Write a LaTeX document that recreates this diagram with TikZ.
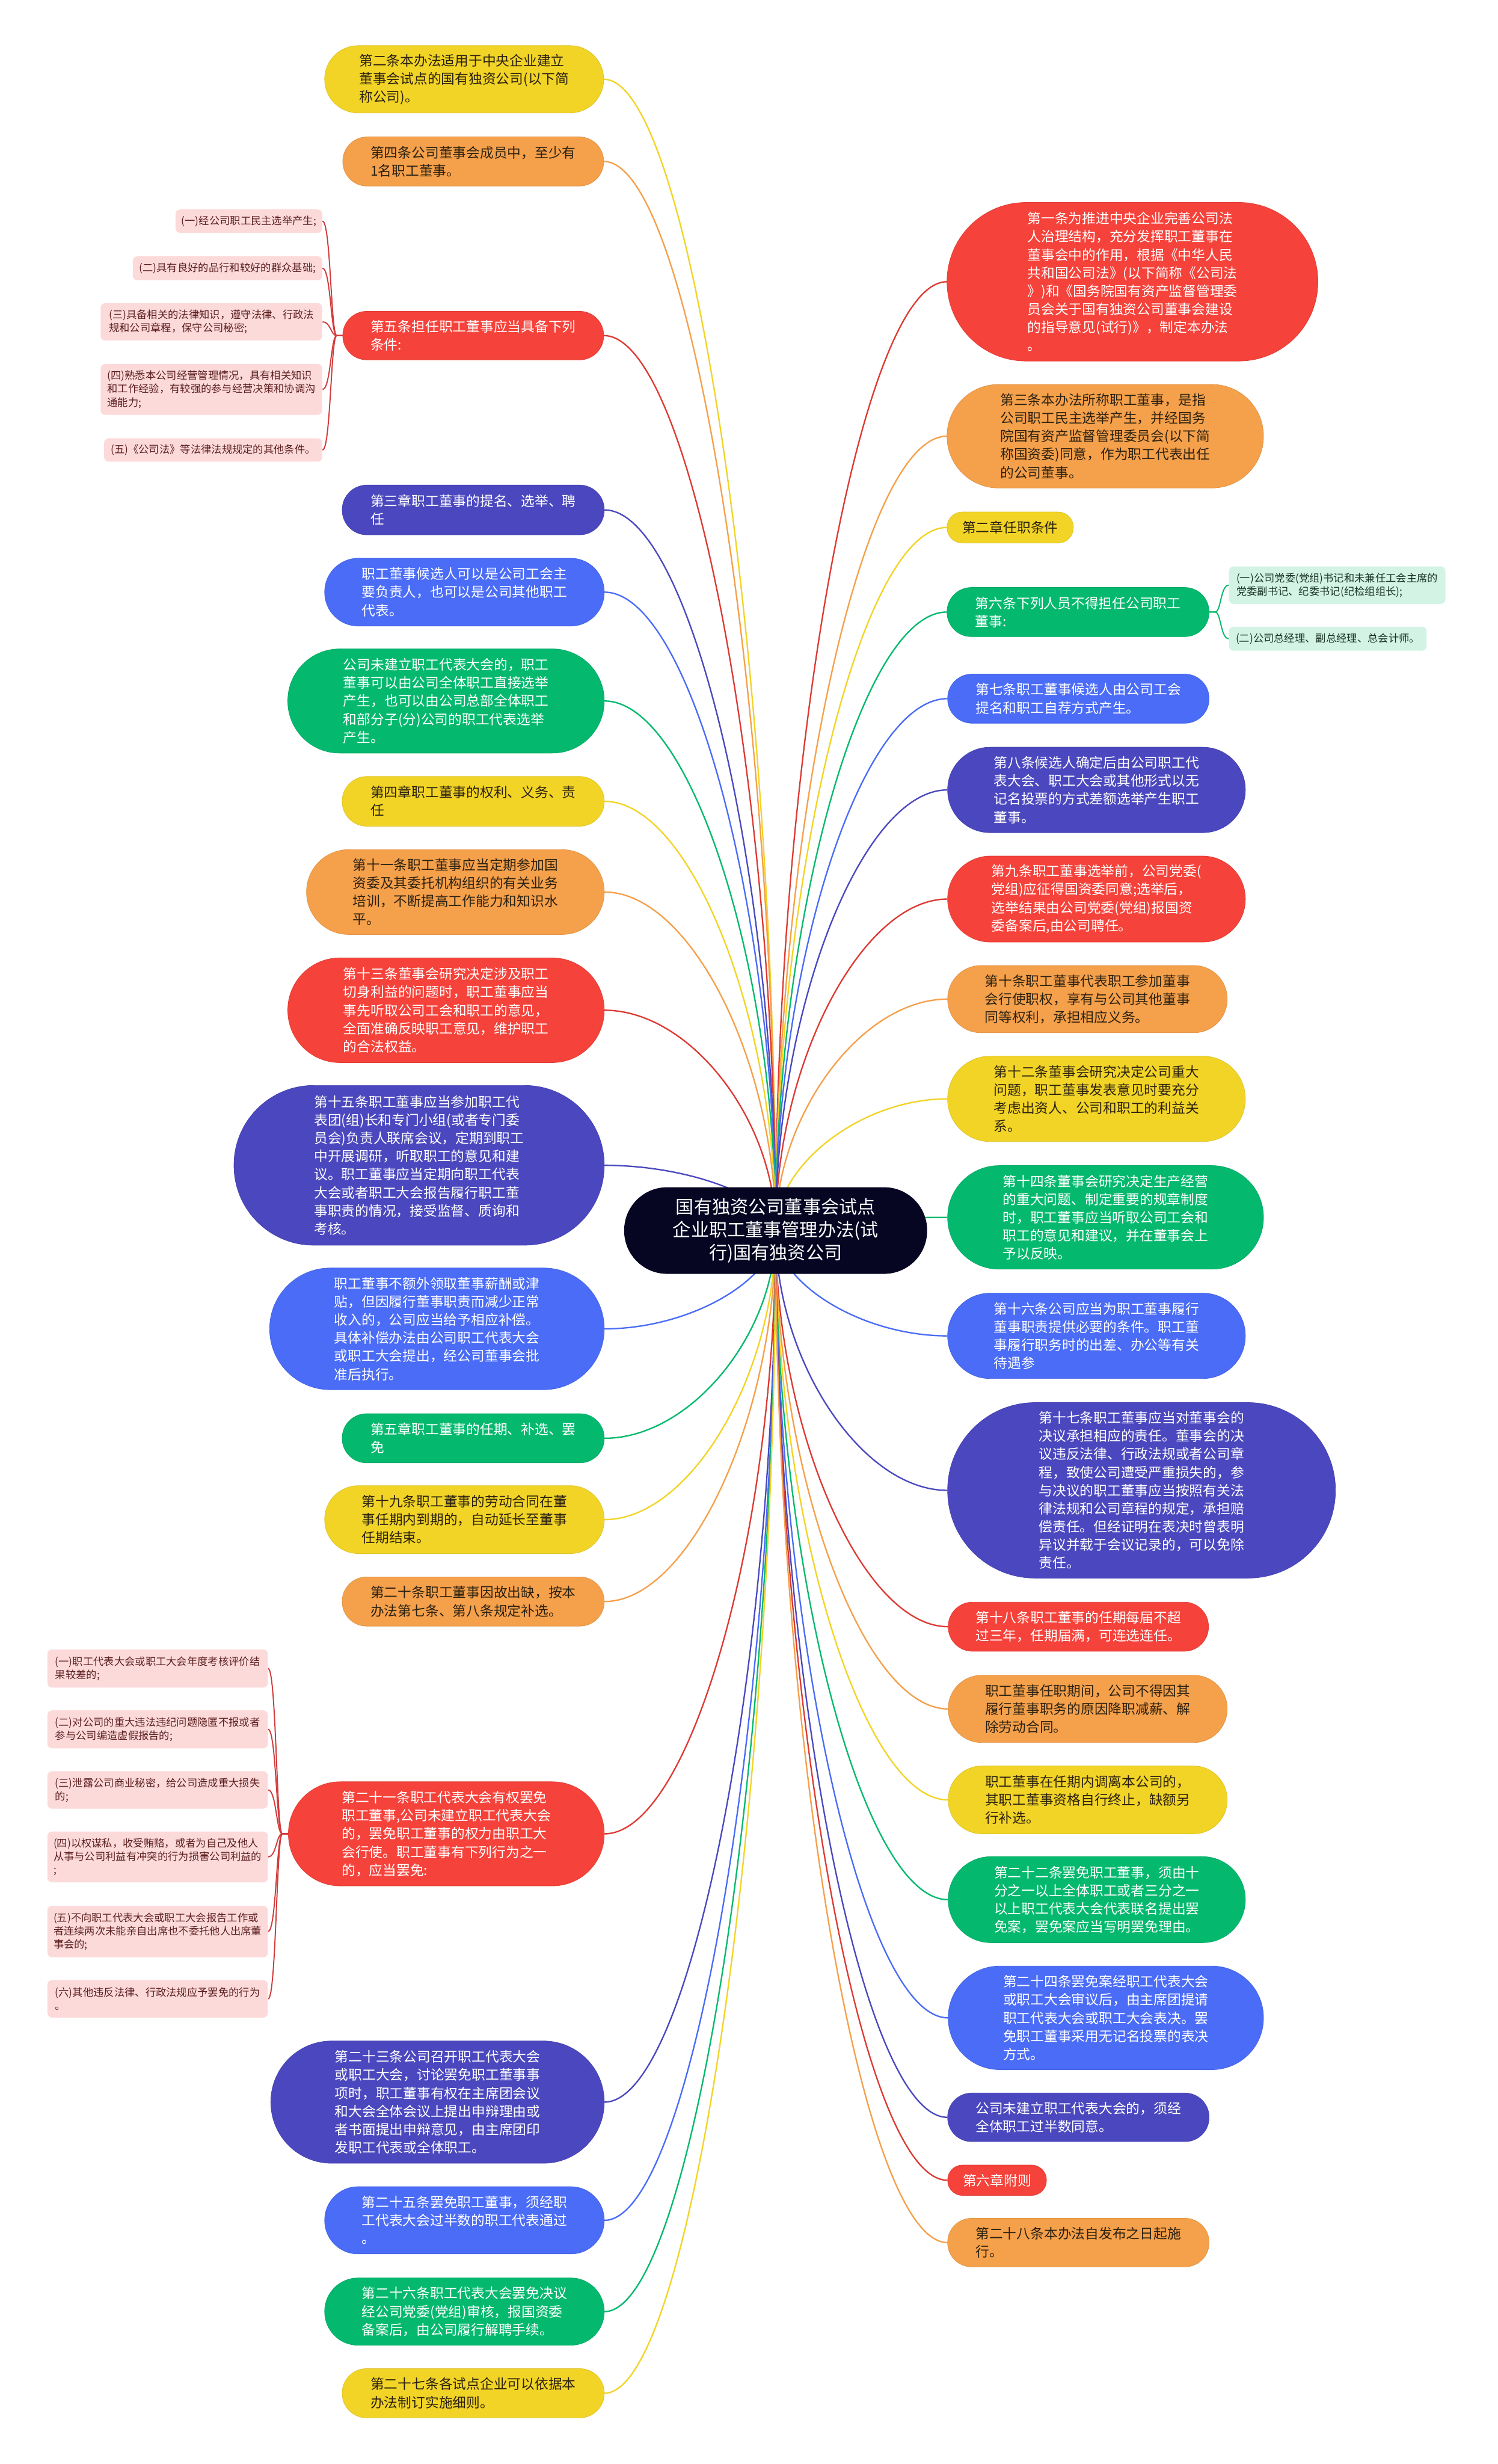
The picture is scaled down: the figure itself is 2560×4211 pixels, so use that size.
\documentclass[tikz,border=0pt]{standalone}
\usepackage{fontspec}
\setmainfont{Noto Sans CJK SC}
\usetikzlibrary{calc}
\pgfdeclarelayer{bg}
\pgfsetlayers{bg,main}
\definecolor{cyel}{HTML}{F2D427}
\definecolor{corg}{HTML}{F5A04B}
\definecolor{cred}{HTML}{F5423A}
\definecolor{cind}{HTML}{4B48BF}
\definecolor{cblu}{HTML}{4A6CF6}
\definecolor{cgrn}{HTML}{04B96E}
\definecolor{croot}{HTML}{060623}
\definecolor{cpink}{HTML}{FDDADA}
\definecolor{cmint}{HTML}{D3F4E5}
\definecolor{cdark}{HTML}{2B2110}
\definecolor{cpinktxt}{HTML}{5C1F1F}
\definecolor{cminttxt}{HTML}{1B3326}
\definecolor{cbrk}{HTML}{D23C3C}
\newcommand\mainfs{\fontsize{11.7}{15.5}\selectfont}
\newcommand\rootfs{\fontsize{15.5}{19.5}\selectfont}
\newcommand\smallfs{\fontsize{8.9}{11.5}\selectfont}
\tikzset{
  pill/.style={inner sep=0pt, align=left, font=\mainfs, line width=0.4pt},
  yelbox/.style={pill, fill=cyel, draw=cyel!92!black, text=cdark},
  orgbox/.style={pill, fill=corg, draw=corg!92!black, text=cdark},
  redbox/.style={pill, fill=cred, draw=cred!92!black, text=white},
  indbox/.style={pill, fill=cind, draw=cind!92!black, text=white},
  blubox/.style={pill, fill=cblu, draw=cblu!92!black, text=white},
  grnbox/.style={pill, fill=cgrn, draw=cgrn!92!black, text=white},
  rootbox/.style={inner sep=0pt, align=center, font=\rootfs, fill=croot, text=white},
  pinkbox/.style={inner sep=0pt, align=left, font=\smallfs, fill=cpink, text=cpinktxt, rounded corners=4pt},
  mintbox/.style={inner sep=0pt, align=left, font=\smallfs, fill=cmint, text=cminttxt, rounded corners=4pt},
  yelline/.style={draw=cyel, line width=1.2pt},
  orgline/.style={draw=corg, line width=1.2pt},
  redline/.style={draw=cred!90!black, line width=1.2pt},
  indline/.style={draw=cind, line width=1.2pt},
  bluline/.style={draw=cblu, line width=1.2pt},
  grnline/.style={draw=cgrn, line width=1.2pt},
  brkred/.style={draw=cbrk, line width=1pt},
  brkgrn/.style={draw=cgrn, line width=1pt},
}
% pill node: name, x1, y1, x2, y2, style, text (pixel coordinates)
\newcommand\bx[7]{\node[#6, minimum width={(#4-#2)*0.5pt}, minimum height={(#5-#3)*0.5pt}, rounded corners={(#5-#3)*0.25pt-0.2pt}] (#1) at ({(#2+#4)/2},{(#3+#5)/2}) {#7};}
% small box node
\newcommand\sbx[7]{\node[#6, minimum width={(#4-#2)*0.5pt}, minimum height={(#5-#3)*0.5pt}] (#1) at ({(#2+#4)/2},{(#3+#5)/2}) {#7};}
% connector from root
\newcommand\conn[2]{\coordinate (mm) at ($(root.center)!0.5!(#1)$);
  \draw[#2] (root.center) .. controls (root.center |- mm) and (mm |- #1) .. (#1);}
% bracket connectors
\newcommand\lbr[3]{\draw[#3] (#1.west) -- ++(-10,0) .. controls +(-10,0) and ($(#2.east)+(14,0)$) .. (#2.east);}
\newcommand\rbr[3]{\draw[#3] (#1.east) -- ++(10,0) .. controls +(10,0) and ($(#2.west)+(-14,0)$) .. (#2.west);}
\begin{document}
\begin{tikzpicture}[x=0.5pt, y=-0.5pt]
\useasboundingbox (0,0) rectangle (2560,4211);
% root
\bx{root}{1067}{2029}{1585}{2177}{rootbox}{国有独资公司董事会试点\\企业职工董事管理办法(试\\行)国有独资公司}
% left column
\bx{n2}{555}{78}{1032}{193}{yelbox}{第二条本办法适用于中央企业建立\\董事会试点的国有独资公司(以下简\\称公司)。}
\bx{n4}{586}{234}{1032}{318}{orgbox}{第四条公司董事会成员中，至少有\\1名职工董事。}
\bx{n5}{586}{532}{1032}{615}{redbox}{第五条担任职工董事应当具备下列\\条件:}
\sbx{s51}{300}{358}{551}{398}{pinkbox}{(一)经公司职工民主选举产生;}
\sbx{s52}{227}{438}{551}{479}{pinkbox}{(二)具有良好的品行和较好的群众基础;}
\sbx{s53}{172}{518}{551}{582}{pinkbox}{(三)具备相关的法律知识，遵守法律、行政法\\规和公司章程，保守公司秘密;}
\sbx{s54}{172}{622}{551}{709}{pinkbox}{(四)熟悉本公司经营管理情况，具有相关知识\\和工作经验，有较强的参与经营决策和协调沟\\通能力;}
\sbx{s55}{178}{749}{551}{789}{pinkbox}{(五)《公司法》等法律法规规定的其他条件。}
\bx{n3c}{585}{829}{1033}{914}{indbox}{第三章职工董事的提名、选举、聘\\任}
\bx{n6}{555}{954}{1033}{1070}{blubox}{职工董事候选人可以是公司工会主\\要负责人，也可以是公司其他职工\\代表。}
\bx{n7}{492}{1109}{1033}{1287}{grnbox}{公司未建立职工代表大会的，职工\\董事可以由公司全体职工直接选举\\产生，也可以由公司总部全体职工\\和部分子(分)公司的职工代表选举\\产生。}
\bx{n8}{585}{1327}{1033}{1412}{yelbox}{第四章职工董事的权利、义务、责\\任}
\bx{n11}{524}{1452}{1033}{1597}{orgbox}{第十一条职工董事应当定期参加国\\资委及其委托机构组织的有关业务\\培训，不断提高工作能力和知识水\\平。}
\bx{n13}{492}{1637}{1033}{1816}{redbox}{第十三条董事会研究决定涉及职工\\切身利益的问题时，职工董事应当\\事先听取公司工会和职工的意见，\\全面准确反映职工意见，维护职工\\的合法权益。}
\bx{n15}{400}{1855}{1033}{2128}{indbox}{第十五条职工董事应当参加职工代\\表团(组)长和专门小组(或者专门委\\员会)负责人联席会议，定期到职工\\中开展调研，听取职工的意见和建\\议。职工董事应当定期向职工代表\\大会或者职工大会报告履行职工董\\事职责的情况，接受监督、质询和\\考核。}
\bx{nbe}{461}{2167}{1033}{2375}{blubox}{职工董事不额外领取董事薪酬或津\\贴，但因履行董事职责而减少正常\\收入的，公司应当给予相应补偿。\\具体补偿办法由公司职工代表大会\\或职工大会提出，经公司董事会批\\准后执行。}
\bx{n5c}{585}{2416}{1033}{2500}{grnbox}{第五章职工董事的任期、补选、罢\\免}
\bx{n19}{555}{2539}{1033}{2655}{yelbox}{第十九条职工董事的劳动合同在董\\事任期内到期的，自动延长至董事\\任期结束。}
\bx{n20}{585}{2695}{1033}{2779}{orgbox}{第二十条职工董事因故出缺，按本\\办法第七条、第八条规定补选。}
\bx{n21}{493}{3045}{1033}{3223}{redbox}{第二十一条职工代表大会有权罢免\\职工董事,公司未建立职工代表大会\\的，罢免职工董事的权力由职工大\\会行使。职工董事有下列行为之一\\的，应当罢免:}
\sbx{s211}{81}{2819}{458}{2884}{pinkbox}{(一)职工代表大会或职工大会年度考核评价结\\果较差的;}
\sbx{s212}{81}{2923}{458}{2988}{pinkbox}{(二)对公司的重大违法违纪问题隐匿不报或者\\参与公司编造虚假报告的;}
\sbx{s213}{81}{3027}{458}{3091}{pinkbox}{(三)泄露公司商业秘密，给公司造成重大损失\\的;}
\sbx{s214}{81}{3130}{458}{3217}{pinkbox}{(四)以权谋私，收受贿赂，或者为自己及他人\\从事与公司利益有冲突的行为损害公司利益的\\;}
\sbx{s215}{81}{3257}{458}{3345}{pinkbox}{(五)不向职工代表大会或职工大会报告工作或\\者连续两次未能亲自出席也不委托他人出席董\\事会的;}
\sbx{s216}{81}{3384}{458}{3448}{pinkbox}{(六)其他违反法律、行政法规应予罢免的行为\\。}
\bx{n23}{463}{3488}{1033}{3697}{indbox}{第二十三条公司召开职工代表大会\\或职工大会，讨论罢免职工董事事\\项时，职工董事有权在主席团会议\\和大会全体会议上提出申辩理由或\\者书面提出申辩意见，由主席团印\\发职工代表或全体职工。}
\bx{n25}{555}{3737}{1033}{3852}{blubox}{第二十五条罢免职工董事，须经职\\工代表大会过半数的职工代表通过\\。}
\bx{n26}{555}{3893}{1033}{4008}{grnbox}{第二十六条职工代表大会罢免决议\\经公司党委(党组)审核，报国资委\\备案后，由公司履行解聘手续。}
\bx{n27}{585}{4048}{1033}{4132}{yelbox}{第二十七条各试点企业可以依据本\\办法制订实施细则。}
% right column
\bx{r1}{1619}{346}{2253}{617}{redbox}{第一条为推进中央企业完善公司法\\人治理结构，充分发挥职工董事在\\董事会中的作用，根据《中华人民\\共和国公司法》(以下简称《公司法\\》)和《国务院国有资产监督管理委\\员会关于国有独资公司董事会建设\\的指导意见(试行)》，制定本办法\\。}
\bx{r3}{1619}{657}{2160}{834}{orgbox}{第三条本办法所称职工董事，是指\\公司职工民主选举产生，并经国务\\院国有资产监督管理委员会(以下简\\称国资委)同意，作为职工代表出任\\的公司董事。}
\bx{r2c}{1619}{875}{1835}{928}{yelbox}{第二章任职条件}
\bx{r6}{1619}{1004}{2067}{1088}{grnbox}{第六条下列人员不得担任公司职工\\董事:}
\sbx{s61}{2101}{968}{2471}{1032}{mintbox}{(一)公司党委(党组)书记和未兼任工会主席的\\党委副书记、纪委书记(纪检组组长);}
\sbx{s62}{2101}{1071}{2439}{1112}{mintbox}{(二)公司总经理、副总经理、总会计师。}
\bx{r7}{1620}{1152}{2067}{1236}{blubox}{第七条职工董事候选人由公司工会\\提名和职工自荐方式产生。}
\bx{r8}{1620}{1277}{2129}{1423}{indbox}{第八条候选人确定后由公司职工代\\表大会、职工大会或其他形式以无\\记名投票的方式差额选举产生职工\\董事。}
\bx{r9}{1620}{1463}{2129}{1610}{redbox}{第九条职工董事选举前，公司党委(\\党组)应征得国资委同意;选举后，\\选举结果由公司党委(党组)报国资\\委备案后,由公司聘任。}
\bx{r10}{1620}{1650}{2098}{1765}{orgbox}{第十条职工董事代表职工参加董事\\会行使职权，享有与公司其他董事\\同等权利，承担相应义务。}
\bx{r12}{1620}{1805}{2129}{1951}{yelbox}{第十二条董事会研究决定公司重大\\问题，职工董事发表意见时要充分\\考虑出资人、公司和职工的利益关\\系。}
\bx{r14}{1620}{1992}{2160}{2169}{grnbox}{第十四条董事会研究决定生产经营\\的重大问题、制定重要的规章制度\\时，职工董事应当听取公司工会和\\职工的意见和建议，并在董事会上\\予以反映。}
\bx{r16}{1620}{2210}{2129}{2356}{blubox}{第十六条公司应当为职工董事履行\\董事职责提供必要的条件。职工董\\事履行职务时的出差、办公等有关\\待遇参}
\bx{r17}{1620}{2397}{2283}{2697}{indbox}{第十七条职工董事应当对董事会的\\决议承担相应的责任。董事会的决\\议违反法律、行政法规或者公司章\\程，致使公司遭受严重损失的，参\\与决议的职工董事应当按照有关法\\律法规和公司章程的规定，承担赔\\偿责任。但经证明在表决时曾表明\\异议并载于会议记录的，可以免除\\责任。}
\bx{r18}{1621}{2738}{2066}{2822}{redbox}{第十八条职工董事的任期每届不超\\过三年，任期届满，可连选连任。}
\bx{r19}{1621}{2863}{2098}{2978}{orgbox}{职工董事任职期间，公司不得因其\\履行董事职务的原因降职减薪、解\\除劳动合同。}
\bx{r20}{1621}{3018}{2098}{3134}{yelbox}{职工董事在任期内调离本公司的，\\其职工董事资格自行终止，缺额另\\行补选。}
\bx{r22}{1621}{3173}{2129}{3320}{grnbox}{第二十二条罢免职工董事，须由十\\分之一以上全体职工或者三分之一\\以上职工代表大会代表联名提出罢\\免案，罢免案应当写明罢免理由。}
\bx{r24}{1621}{3360}{2160}{3537}{blubox}{第二十四条罢免案经职工代表大会\\或职工大会审议后，由主席团提请\\职工代表大会或职工大会表决。罢\\免职工董事采用无记名投票的表决\\方式。}
\bx{r25}{1620}{3577}{2067}{3660}{indbox}{公司未建立职工代表大会的，须经\\全体职工过半数同意。}
\bx{r6c}{1620}{3700}{1789}{3752}{redbox}{第六章附则}
\bx{r28}{1620}{3791}{2067}{3874}{orgbox}{第二十八条本办法自发布之日起施\\行。}
% connectors
\begin{pgfonlayer}{bg}
\fill[white] (0,0) rectangle (2560,4211);
\conn{n2.east}{yelline}
\conn{n4.east}{orgline}
\conn{n5.east}{redline}
\conn{n3c.east}{indline}
\conn{n6.east}{bluline}
\conn{n7.east}{grnline}
\conn{n8.east}{yelline}
\conn{n11.east}{orgline}
\conn{n13.east}{redline}
\conn{n15.east}{indline}
\conn{nbe.east}{bluline}
\conn{n5c.east}{grnline}
\conn{n19.east}{yelline}
\conn{n20.east}{orgline}
\conn{n21.east}{redline}
\conn{n23.east}{indline}
\conn{n25.east}{bluline}
\conn{n26.east}{grnline}
\conn{n27.east}{yelline}
\conn{r1.west}{redline}
\conn{r3.west}{orgline}
\conn{r2c.west}{yelline}
\conn{r6.west}{grnline}
\conn{r7.west}{bluline}
\conn{r8.west}{indline}
\conn{r9.west}{redline}
\conn{r10.west}{orgline}
\conn{r12.west}{yelline}
\conn{r14.west}{grnline}
\conn{r16.west}{bluline}
\conn{r17.west}{indline}
\conn{r18.west}{redline}
\conn{r19.west}{orgline}
\conn{r20.west}{yelline}
\conn{r22.west}{grnline}
\conn{r24.west}{bluline}
\conn{r25.west}{indline}
\conn{r6c.west}{redline}
\conn{r28.west}{orgline}
\lbr{n5}{s51}{brkred}
\lbr{n5}{s52}{brkred}
\lbr{n5}{s53}{brkred}
\lbr{n5}{s54}{brkred}
\lbr{n5}{s55}{brkred}
\lbr{n21}{s211}{brkred}
\lbr{n21}{s212}{brkred}
\lbr{n21}{s213}{brkred}
\lbr{n21}{s214}{brkred}
\lbr{n21}{s215}{brkred}
\lbr{n21}{s216}{brkred}
\rbr{r6}{s61}{brkgrn}
\rbr{r6}{s62}{brkgrn}
\end{pgfonlayer}
\end{tikzpicture}
\end{document}
